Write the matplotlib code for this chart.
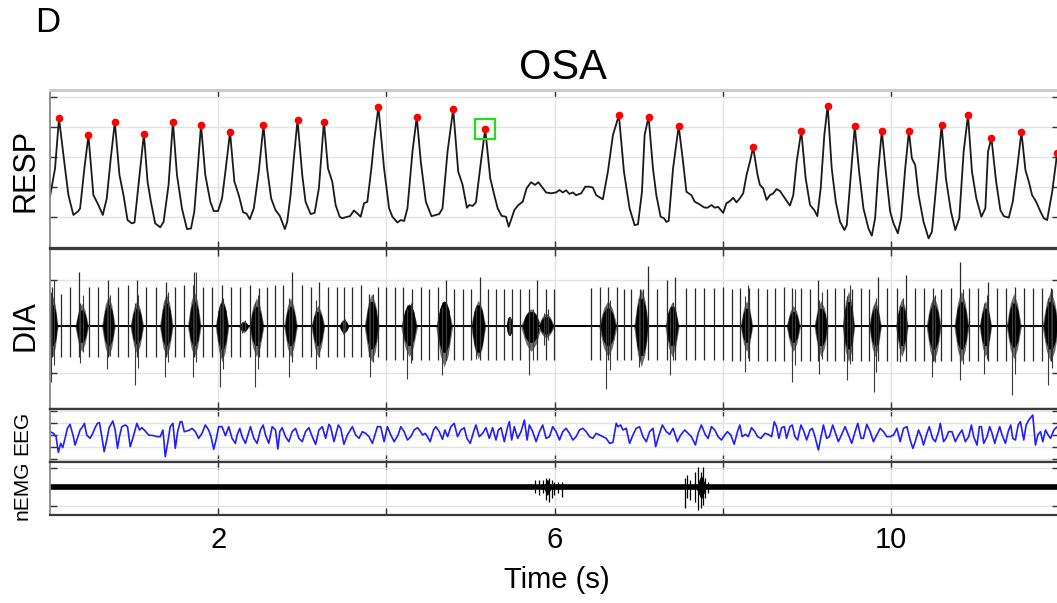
import numpy as np
import matplotlib.pyplot as plt

plt.rcParams['font.family'] = ['Liberation Sans', 'DejaVu Sans']

# ---------------- RESP trace (s, arbitrary units) ----------------
resp_t = [0.000, 0.060, 0.107, 0.179, 0.219, 0.278, 0.338, 0.358, 0.409, 0.457,
          0.516, 0.576, 0.628, 0.675, 0.723, 0.771, 0.826, 0.874, 0.922, 0.973,
          1.005, 1.053, 1.117, 1.160, 1.200, 1.251, 1.311, 1.351, 1.410, 1.462,
          1.510, 1.569, 1.629, 1.677, 1.716, 1.748, 1.796, 1.847, 1.907, 1.947,
          1.998, 2.046, 2.086, 2.141, 2.193, 2.245, 2.296, 2.336, 2.376, 2.424,
          2.483, 2.539, 2.582, 2.630, 2.682, 2.733, 2.793, 2.821, 2.861, 2.900,
          2.944, 3.000, 3.039, 3.099, 3.147, 3.198, 3.258, 3.306, 3.357, 3.397,
          3.445, 3.476, 3.536, 3.568, 3.615, 3.655, 3.695, 3.735, 3.774, 3.822,
          3.854, 3.906, 3.973, 4.033, 4.072, 4.132, 4.172, 4.212, 4.251, 4.311,
          4.362, 4.410, 4.470, 4.537, 4.589, 4.629, 4.668, 4.728, 4.795, 4.855,
          4.907, 4.958, 4.986, 5.026, 5.066, 5.125, 5.176, 5.236, 5.284, 5.324,
          5.371, 5.423, 5.455, 5.483, 5.522, 5.570, 5.622, 5.669, 5.721, 5.769,
          5.808, 5.848, 5.900, 5.959, 6.019, 6.059, 6.098, 6.138, 6.178, 6.218,
          6.257, 6.317, 6.365, 6.416, 6.456, 6.496, 6.575, 6.635, 6.695, 6.766,
          6.826, 6.893, 6.953, 6.993, 7.040, 7.072, 7.119, 7.171, 7.211, 7.262,
          7.302, 7.330, 7.358, 7.410, 7.477, 7.529, 7.569, 7.628, 7.668, 7.727,
          7.779, 7.819, 7.866, 7.906, 7.946, 8.006, 8.045, 8.085, 8.125, 8.165,
          8.204, 8.244, 8.284, 8.324, 8.363, 8.415, 8.443, 8.482, 8.522, 8.562,
          8.602, 8.641, 8.681, 8.741, 8.800, 8.840, 8.880, 8.935, 8.987, 9.039,
          9.090, 9.126, 9.166, 9.209, 9.249, 9.297, 9.345, 9.396, 9.448, 9.476,
          9.515, 9.571, 9.623, 9.674, 9.734, 9.774, 9.813, 9.853, 9.893, 9.940,
          9.992, 10.032, 10.083, 10.123, 10.171, 10.215, 10.250, 10.290, 10.330, 10.389,
          10.449, 10.489, 10.548, 10.604, 10.655, 10.715, 10.767, 10.814, 10.866, 10.918,
          10.965, 11.017, 11.077, 11.124, 11.156, 11.196, 11.252, 11.303, 11.343, 11.403,
          11.450, 11.502, 11.553, 11.601, 11.641, 11.680, 11.728, 11.780, 11.819, 11.859,
          11.919, 11.979, 12.000]
resp_v = [0.69, 1.63, 3.30, 1.63, 0.74, 0.08, 0.21, 0.30, 1.63, 2.73,
          0.74, 0.41, 0.08, 0.63, 1.97, 3.17, 1.41, 0.74, -0.09, -0.20,
          -0.17, 1.08, 2.78, 1.19, 0.52, -0.20, -0.33, -0.15, 1.08, 3.18,
          1.41, 0.30, -0.39, -0.37, 0.19, 1.30, 3.07, 1.41, 0.52, 0.21,
          0.21, 0.63, 1.52, 2.84, 1.19, 0.74, 0.17, 0.13, -0.06, 0.30,
          1.52, 3.07, 1.63, 0.63, 0.24, 0.05, -0.39, -0.15, 0.74, 1.97,
          3.24, 1.41, 0.52, 0.11, 0.15, 0.97, 3.19, 1.63, 1.19, 0.41,
          0.02, -0.03, 0.02, 0.04, 0.23, 0.13, 0.02, 0.47, 0.52, 1.63,
          2.52, 3.68, 1.63, 0.30, 0.02, -0.17, -0.09, -0.12, 0.30, 2.19,
          3.34, 1.85, 0.52, 0.04, 0.08, 0.11, 0.30, 2.19, 3.60, 1.52,
          1.08, 0.32, 0.41, 0.38, 0.50, 1.85, 2.94, 1.30, 0.74, 0.30,
          0.05, 0.02, -0.31, -0.09, 0.24, 0.41, 0.52, 0.97, 1.17, 1.08,
          1.17, 1.02, 0.83, 0.80, 0.83, 0.91, 0.83, 0.90, 0.78, 0.83,
          0.74, 0.80, 1.02, 1.02, 0.99, 0.74, 0.60, 1.52, 2.74, 3.40,
          1.52, 0.30, -0.26, -0.23, 0.85, 2.74, 3.35, 1.63, 0.74, 0.02,
          -0.03, -0.15, -0.12, 1.63, 3.04, 1.85, 0.85, 0.74, 0.52, 0.43,
          0.33, 0.32, 0.41, 0.32, 0.35, 0.15, 0.47, 0.54, 0.65, 0.50,
          0.63, 0.80, 1.41, 1.85, 2.33, 1.41, 1.08, 0.97, 0.58, 0.74,
          0.80, 0.94, 0.88, 0.63, 0.39, 0.74, 1.85, 2.88, 1.30, 0.41,
          0.24, 0.04, 0.97, 2.74, 3.72, 1.63, 0.52, -0.15, -0.42, -0.26,
          1.08, 3.03, 1.52, 0.30, -0.37, -0.61, -0.03, 1.63, 2.88, 1.52,
          0.19, -0.20, -0.53, -0.03, 1.63, 2.87, 1.97, 1.74, 0.74, -0.15,
          -0.70, -0.48, 1.30, 3.08, 1.30, 0.19, -0.42, -0.03, 2.19, 3.40,
          1.52, 0.63, 0.02, 0.30, 2.19, 2.65, 1.19, 0.24, 0.04, -0.01,
          0.52, 1.63, 2.84, 1.57, 1.19, 0.74, 0.52, 0.19, -0.03, -0.09,
          0.85, 2.15, 2.02]

peak_t = [0.107, 0.457, 0.771, 1.117, 1.462, 1.796, 2.141, 2.539, 2.944, 3.258,
          3.906, 4.362, 4.795, 5.176, 6.766, 7.119, 7.477, 8.363, 8.935, 9.249,
          9.571, 9.893, 10.215, 10.604, 10.918, 11.196, 11.553, 11.979]
peak_v = [3.30, 2.73, 3.17, 2.78, 3.18, 3.07, 2.84, 3.07, 3.24, 3.19,
          3.68, 3.34, 3.60, 2.94, 3.40, 3.35, 3.04, 2.33, 2.88, 3.72,
          3.03, 2.88, 2.87, 3.08, 3.40, 2.65, 2.84, 2.15]
boxed_peak = 13

# ---------------- DIA: ECG artefact spikes + inspiratory bursts ----------------
spike_t = [0.020, 0.127, 0.238, 0.350, 0.465, 0.576, 0.687, 0.803, 0.922, 1.033,
           1.144, 1.259, 1.375, 1.486, 1.597, 1.708, 1.824, 1.927, 2.046, 2.157,
           2.265, 2.376, 2.487, 2.582, 2.674, 2.773, 2.880, 2.992, 3.099, 3.202,
           3.306, 3.409, 3.496, 3.596, 3.695, 3.794, 3.901,
           4.001, 4.100, 4.203, 4.311, 4.410, 4.513, 4.617, 4.712, 4.807, 4.911,
           5.006, 5.109, 5.205, 5.304, 5.403, 5.499, 5.594, 5.693, 5.793, 5.896,
           5.999, 6.436, 6.536, 6.635, 6.738, 6.826, 6.913, 7.012, 7.112, 7.223,
           7.334, 7.437, 7.565, 7.668, 7.779, 7.898, 8.006,
           8.113, 8.212, 8.316, 8.423, 8.522, 8.621, 8.725, 8.828, 8.931, 9.035,
           9.138, 9.237, 9.337, 9.440, 9.543, 9.646, 9.746, 9.853, 9.960, 10.068,
           10.179, 10.282, 10.393, 10.497, 10.600, 10.719, 10.826, 10.933, 11.037, 11.156,
           11.264, 11.371, 11.474, 11.585, 11.688, 11.792, 11.899, 11.990]
spike_up = [0.85, 0.70, 0.85, 1.17, 0.85, 0.85, 1.00, 0.85, 0.88, 1.00,
            0.85, 0.85, 0.95, 0.85, 0.88, 1.17, 0.85, 0.85, 0.88, 0.85,
            0.85, 0.88, 0.82, 0.85, 0.88, 0.88, 1.17, 0.88, 0.85, 0.95,
            0.85, 0.85, 0.85, 0.85, 0.88, 0.70, 0.85,
            0.85, 0.85, 0.85, 0.80, 0.85, 0.80, 0.85, 1.00, 0.80, 0.80,
            0.80, 1.05, 0.80, 0.80, 0.80, 0.80, 0.80, 0.80, 1.00, 0.80,
            0.80, 0.82, 0.85, 0.85, 0.85, 0.80, 0.80, 0.80, 1.30, 0.80,
            1.00, 1.05, 0.82, 0.82, 0.82, 0.82, 0.85,
            0.80, 0.82, 0.82, 0.82, 0.80, 0.82, 0.85, 0.82, 0.82, 0.80,
            0.99, 0.80, 0.82, 0.82, 0.80, 0.82, 0.80, 1.05, 0.82, 0.82,
            1.11, 0.82, 0.82, 0.82, 0.80, 0.82, 1.38, 0.82, 0.82, 0.95,
            0.82, 0.82, 0.85, 0.82, 0.82, 0.82, 0.82, 0.85]
spike_dn = [-0.66] * 37 + [-0.72] * 37 + [-0.74] * 38

burst_t = [0.032, 0.377, 0.695, 1.033, 1.383, 1.716, 2.046, 2.304, 2.455, 2.861,
           3.186, 3.496, 3.826, 4.271, 4.688, 5.093, 5.463, 5.721, 5.900, 6.635,
           7.032, 7.398, 8.284, 8.840, 9.170, 9.496, 9.813, 10.131, 10.509, 10.839,
           11.125, 11.462, 11.899]
burst_w = [0.05, 0.065, 0.065, 0.065, 0.065, 0.065, 0.065, 0.05, 0.072, 0.065,
           0.065, 0.05, 0.072, 0.08, 0.08, 0.072, 0.032, 0.10, 0.08, 0.087,
           0.072, 0.068, 0.06, 0.068, 0.068, 0.06, 0.06, 0.06, 0.072, 0.072,
           0.06, 0.072, 0.08]
burst_hi = [0.45, 0.34, 0.45, 0.38, 0.49, 0.52, 0.49, 0.08, 0.42, 0.42,
            0.31, 0.11, 0.52, 0.45, 0.52, 0.45, 0.20, 0.31, 0.20, 0.38,
            0.59, 0.42, 0.38, 0.31, 0.38, 0.52, 0.38, 0.42, 0.45, 0.52,
            0.38, 0.49, 0.52]
burst_lo = [-0.41, -0.34, -0.41, -0.37, -0.41, -0.41, -0.48, -0.09, -0.41, -0.41,
            -0.41, -0.11, -0.48, -0.41, -0.55, -0.55, -0.19, -0.34, -0.16, -0.41,
            -0.62, -0.41, -0.34, -0.34, -0.41, -0.48, -0.41, -0.41, -0.48, -0.48,
            -0.41, -0.44, -0.48]
burst_top = [0.99, 0.67, 0.67, 0.67, 0.74, 1.17, 0.60, 0.13, 0.67, 0.81,
             0.74, 0.16, 0.70, 0.49, 0.56, 0.56, 0.20, 0.38, 0.38, 0.56,
             0.81, 0.52, 0.88, 0.81, 0.74, 0.88, 0.60, 0.60, 0.67, 0.81,
             0.67, 0.70, 0.81]
burst_bot = [-1.20, -0.80, -0.91, -1.27, -1.09, -1.09, -1.30, -0.14, -1.30, -1.09,
             -0.91, -0.16, -1.09, -1.13, -1.05, -0.70, -0.19, -1.05, -0.41, -1.34,
             -0.87, -1.05, -0.98, -1.20, -1.02, -1.16, -1.41, -0.77, -1.09, -1.16,
             -1.02, -1.48, -1.27]

# ---------------- EEG ----------------
eeg_t = [0.000, 0.040, 0.072, 0.099, 0.127, 0.151, 0.179, 0.207, 0.238, 0.278,
         0.298, 0.326, 0.358, 0.389, 0.409, 0.437, 0.477, 0.509, 0.536, 0.564,
         0.588, 0.616, 0.644, 0.675, 0.703, 0.747, 0.775, 0.803, 0.826, 0.854,
         0.894, 0.922, 0.954, 0.985, 1.033, 1.065, 1.093, 1.132, 1.172, 1.232,
         1.279, 1.311, 1.343, 1.371, 1.402, 1.430, 1.462, 1.490, 1.518, 1.549,
         1.569, 1.597, 1.629, 1.661, 1.689, 1.728, 1.768, 1.808, 1.847, 1.887,
         1.915, 1.947, 1.979, 2.006, 2.046, 2.086, 2.126, 2.165, 2.205, 2.225,
         2.257, 2.285, 2.324, 2.384, 2.424, 2.463, 2.503, 2.535, 2.563, 2.602,
         2.642, 2.682, 2.710, 2.733, 2.761, 2.801, 2.841, 2.880, 2.920, 2.960,
         3.000, 3.039, 3.079, 3.119, 3.159, 3.198, 3.238, 3.278, 3.317, 3.337,
         3.377, 3.429, 3.457, 3.496, 3.536, 3.596, 3.635, 3.675, 3.715, 3.754,
         3.794, 3.834, 3.894, 3.933, 3.973,
         4.013, 4.053, 4.093, 4.140, 4.172, 4.212, 4.251, 4.291, 4.331, 4.370,
         4.402, 4.430, 4.461, 4.489, 4.521, 4.561, 4.589, 4.629, 4.668, 4.696,
         4.728, 4.768, 4.807, 4.847, 4.887, 4.926, 4.958, 4.998, 5.038, 5.066,
         5.105, 5.145, 5.185, 5.224, 5.264, 5.304, 5.332, 5.364, 5.403, 5.443,
         5.463, 5.491, 5.522, 5.562, 5.602, 5.642, 5.674, 5.701, 5.741, 5.781,
         5.821, 5.860, 5.900, 5.940, 5.979, 6.019, 6.059, 6.098, 6.138, 6.178,
         6.218, 6.257, 6.297, 6.337, 6.377, 6.416, 6.456, 6.496, 6.536, 6.575,
         6.615, 6.655, 6.695, 6.734, 6.754, 6.786, 6.814, 6.853, 6.893, 6.933,
         6.972, 7.012, 7.052, 7.092, 7.131, 7.171, 7.203, 7.243, 7.283, 7.330,
         7.370, 7.410, 7.461, 7.501, 7.549, 7.589, 7.628, 7.676, 7.708, 7.747,
         7.795, 7.827, 7.867, 7.906, 7.946, 7.986, 8.025,
         8.057, 8.097, 8.137, 8.176, 8.204, 8.232, 8.272, 8.304, 8.343, 8.383,
         8.415, 8.455, 8.502, 8.542, 8.582, 8.614, 8.641, 8.669, 8.701, 8.733,
         8.760, 8.800, 8.828, 8.860, 8.891, 8.931, 8.959, 8.999, 9.039, 9.066,
         9.098, 9.138, 9.170, 9.198, 9.237, 9.269, 9.309, 9.349, 9.376, 9.416,
         9.456, 9.496, 9.535, 9.575, 9.607, 9.646, 9.674, 9.714, 9.754, 9.793,
         9.833, 9.873, 9.913, 9.952, 9.992, 10.032, 10.072, 10.111, 10.151, 10.191,
         10.230, 10.262, 10.290, 10.330, 10.362, 10.389, 10.429, 10.457, 10.497, 10.529,
         10.568, 10.588, 10.628, 10.656, 10.687, 10.727, 10.767, 10.807, 10.846, 10.886,
         10.926, 10.958, 10.985, 11.025, 11.053, 11.077, 11.105, 11.144, 11.176, 11.204,
         11.236, 11.264, 11.295, 11.323, 11.363, 11.395, 11.426, 11.450, 11.482, 11.514,
         11.541, 11.581, 11.609, 11.641, 11.688, 11.720, 11.748, 11.780, 11.807, 11.839,
         11.871, 11.899, 11.939, 11.979, 12.003]
eeg_v = [10, 5, -5, -52, -25, -38, -10, 20, 32, -5,
         -30, -10, 15, 25, 35, 0, -10, 5, 22, 35,
         37, -5, -50, -15, 22, 42, 15, -40, -5, 25,
         30, 25, -35, -10, 35, 15, 22, 12, 0, -2,
         -5, -5, 15, -65, -20, 25, 35, -40, 10, 40,
         40, 10, 12, 15, 20, 10, -10, 5, 30, 15,
         -5, -43, -10, 25, 25, -2, 25, -10, -25, 0,
         20, -5, -25, 25, -10, -25, 15, 30, 0, -25,
         25, 15, -42, 10, 22, -5, -20, 10, 20, -10,
         -20, 10, 22, -5, -28, 15, 25, -10, 32, 25,
         -20, 30, 20, -28, 0, 25, 0, -10, 10, 5,
         -5, -25, 25, 25, -20,
         25, 0, -20, 0, 25, 10, -15, -5, 15, 22,
         12, 0, 5, -5, -20, 15, 25, 10, -13, 15,
         -5, 25, 35, -5, 15, 22, -10, -25, 10, 30,
         -5, 5, 22, -10, 22, -15, 15, 22, -20, 25,
         40, -15, 25, -10, 10, 45, -15, 30, 10, -20,
         10, 30, -10, -5, 25, 10, -15, 10, 20, 5,
         -15, -5, 15, 20, 10, -5, -10, 5, 0, -5,
         -10, -25, -22, 35, 25, 30, 15, 20, -25, 0,
         20, 25, -5, -20, 10, 20, -35, 0, 30, 10,
         2, 20, -20, 0, 15, 5, -5, -30, 5, 30,
         0, -10, 25, 15, -5, -15, 0,
         10, 0, -28, 10, 30, -5, 2, -5, 22, 10,
         -5, -10, 5, 2, -5, 40, 25, -10, 22, 25,
         -10, 25, 30, -5, -15, 30, 15, -15, 15, 20,
         -5, -45, -5, 30, -10, -5, 30, 0, -20, 2,
         25, 0, -25, 10, 35, -10, -10, 32, 10, -20,
         0, 20, 10, -5, -5, 0, 20, -20, 20, 25,
         -15, -40, -20, 15, -5, -30, 5, 25, -10, -20,
         10, 35, -20, -10, 10, 10, -20, 0, 15, -20,
         -5, 30, -5, -30, 25, 25, -25, -5, 25, 5,
         -25, 0, 25, 0, -25, 10, 30, -10, -15, 30,
         40, -15, 30, 45, 60, -30, 0, 10, -20, 15,
         0, -10, 15, 25, 10]

# ---------------- nEMG ----------------
emg_core = 0.10
emg_fuzz = 0.17
emg_spk_t = [5.773, 5.821, 5.860, 5.900, 5.940, 5.968, 5.999, 6.039, 6.087,
             7.549, 7.581, 7.609, 7.668, 7.708, 7.740, 7.767, 7.795, 7.827]
emg_spk_hi = [0.39, 0.39, 0.39, 0.47, 0.47, 0.39, 0.30, 0.30, 0.30,
              0.47, 0.65, 0.39, 0.82, 1.09, 0.82, 1.09, 0.47, 0.30]
emg_spk_lo = [-0.32, -0.40, -0.32, -0.67, -0.75, -0.58, -0.40, -0.32, -0.49,
              -1.10, -0.58, -0.67, -0.75, -1.19, -1.10, -0.93, -0.58, -0.32]
emg_core_t = [5.915, 7.745]
emg_core_w = [0.045, 0.06]
emg_core_a = [0.40, 0.60]

# ---------------- figure ----------------
W, H = 1057, 603
fig = plt.figure(figsize=(W / 100, H / 100), dpi=100)

def px_axes(top, bottom):
    return fig.add_axes([50 / W, 1 - bottom / H, (1059 - 50) / W, (bottom - top) / H])

ax1 = px_axes(90, 248)
ax2 = px_axes(249, 409)
ax3 = px_axes(409, 462)
ax4 = px_axes(462, 515)
axes = [ax1, ax2, ax3, ax4]

for ax in axes:
    ax.set_xlim(0, 12)
    ax.set_xticks([2, 4, 6, 8, 10])
    ax.grid(True, color='#e3e3e3', lw=1)
    ax.set_axisbelow(True)
    ax.tick_params(direction='in', length=5, width=1, colors='#333333',
                   top=True, right=True, labelleft=False, labelbottom=False)
    for s in ['top', 'bottom', 'right']:
        ax.spines[s].set_color('#3a3a3a')
        ax.spines[s].set_linewidth(1.6)
    ax.spines['left'].set_color('#8a8a8a')
    ax.spines['left'].set_linewidth(1.3)
ax1.spines['top'].set_color('#cccccc')
ax1.spines['top'].set_linewidth(2.2)

# RESP
ax1.plot(resp_t, resp_v, color='#1a1a1a', lw=1.3, solid_joinstyle='round')
ax1.plot(peak_t, peak_v, 'o', color='red', ms=4.5, mec='red')
ax1.plot(peak_t[boxed_peak], peak_v[boxed_peak], 's', ms=14, mfc='none',
         mec='#22dd22', mew=1.6)
ax1.set_ylim(-1.02, 4.24)
ax1.set_yticks([0, 1, 2, 3, 4])

# DIA
ax2.axhline(0, color='black', lw=1.4)
ax2.vlines(spike_t, spike_dn, spike_up, color='#2a2a2a', lw=0.9)
for c, w, hi, lo, top, bot in zip(burst_t, burst_w, burst_hi, burst_lo, burst_top, burst_bot):
    # grey fuzz of the burst
    xo = [c - 1.25 * w, c - 0.6 * w, c, c + 0.6 * w, c + 1.25 * w]
    ho = min(1.45 * hi, top)
    lo_o = max(1.6 * lo, bot)
    ax2.fill_between(xo, [0, 0.7 * lo_o, lo_o, 0.7 * lo_o, 0],
                     [0, 0.7 * ho, ho, 0.7 * ho, 0], color='#6e6e6e', lw=0)
    # dense black core
    xs = [c - w, c - 0.65 * w, c - 0.25 * w, c + 0.25 * w, c + 0.65 * w, c + w]
    ax2.fill_between(xs, [0, 0.7 * lo, lo, lo, 0.7 * lo, 0],
                     [0, 0.7 * hi, hi, hi, 0.7 * hi, 0], color='black', lw=0.4)
    ax2.vlines([c - 0.3 * w, c + 0.25 * w], [bot, 0.7 * bot], [0.75 * top, top],
               color='#3a3a3a', lw=0.8)
ax2.set_ylim(-1.78, 1.66)
ax2.set_yticks([-1, 0, 1])

# EEG
ax3.plot(eeg_t, eeg_v, color='#1f1fff', lw=1.2)
ax3.set_ylim(-81, 78)
ax3.set_yticks([-72, -36, 0, 36, 72])

# nEMG
ax4.fill_between([0, 12], -emg_fuzz, emg_fuzz, color='#303030', lw=0)
ax4.fill_between([0, 12], -emg_core, emg_core, color='black', lw=0)
for c, w, a in zip(emg_core_t, emg_core_w, emg_core_a):
    ax4.fill_between([c - w, c, c + w], [0, -a, 0], [0, a, 0], color='black', lw=0.5)
ax4.vlines(emg_spk_t, emg_spk_lo, emg_spk_hi, color='black', lw=0.9)
ax4.set_ylim(-1.46, 1.33)
ax4.set_yticks([-1, 0, 1])
ax4.set_xticklabels(['2', '', '6', '', '10'])
ax4.tick_params(axis='x', labelbottom=True, labelsize=21, pad=8, labelcolor='black')

# labels
fig.text(563 / W, 1 - 68 / H, 'OSA', fontsize=30, ha='center', va='center')
fig.text(48 / W, 1 - 22 / H, 'D', fontsize=25, ha='center', va='center')
fig.text(557 / W, 1 - 580 / H, 'Time (s)', fontsize=21, ha='center', va='center')
fig.text(25 / W, 1 - 171 / H, 'RESP', fontsize=22, rotation=90, ha='center', va='center')
fig.text(25 / W, 1 - 326 / H, 'DIA', fontsize=22, rotation=90, ha='center', va='center')
fig.text(22 / W, 1 - 433 / H, 'EEG', fontsize=15, rotation=90, ha='center', va='center')
fig.text(22 / W, 1 - 490 / H, 'nEMG', fontsize=15, rotation=90, ha='center', va='center')

fig.savefig('out.png', dpi=100)
